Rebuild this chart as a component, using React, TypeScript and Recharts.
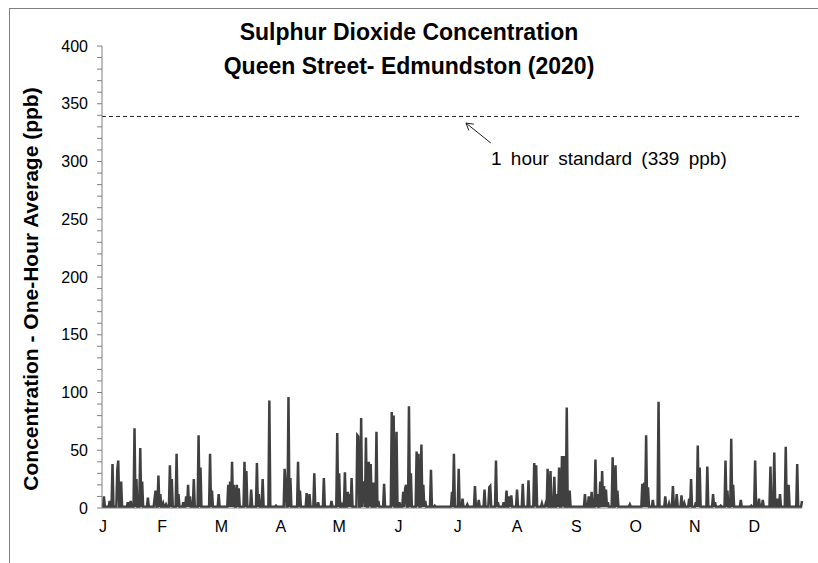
import { LineChart, Line, XAxis, YAxis, ReferenceLine } from "recharts"

// hourly SO2 peaks: [day of year, ppb]
const janPeaks = [[1, 10], [4, 6], [5.5, 38], [8, 33], [8.5, 41], [10, 23], [13.5, 5], [15, 6], [17, 69], [18, 25], [20, 52], [21, 23], [24, 9], [27.5, 8], [28, 15], [29.5, 28], [30.5, 12]]
const febPeaks = [[32, 4], [33.5, 3], [35.5, 37], [36.5, 25], [39, 47], [40, 12], [42.5, 5], [44, 10], [45, 20], [46, 10], [48, 25], [50.5, 63], [51.5, 35], [56.5, 47], [57.5, 15]]
const marPeaks = [[61, 12], [66, 20], [67, 23], [68, 40], [69, 20], [70.5, 20], [71.5, 17], [74.5, 40], [75.5, 32], [78, 16], [81, 39], [82, 12], [84, 25], [87.5, 93]]
const aprPeaks = [[91, 2], [95.5, 34], [96, 20], [97.5, 96], [98.5, 26], [102.5, 40], [103.5, 15], [107, 13], [108.5, 12], [111, 30], [113, 5], [116, 26], [120, 6]]
const mayPeaks = [[123, 65], [124, 30], [125.5, 3], [127, 31], [128.5, 14], [129.5, 12], [130.5, 26], [133.5, 63], [134, 62], [135.5, 78], [136.5, 22], [137, 22], [138, 61], [139.5, 40], [140.5, 38], [142, 22], [143.5, 66], [144.5, 6], [147.5, 21], [151.5, 83]]
const junPeaks = [[152.5, 80], [154, 66], [155.5, 5], [157.5, 14], [158.5, 17], [159, 20], [160.5, 88], [161.5, 30], [164.5, 49], [165.5, 47], [167, 55], [168, 20], [169, 6], [172, 33], [174, 2]]
const julPeaks = [[183, 14], [184, 47], [186.5, 34], [188.5, 8], [191, 3], [195, 19], [197, 7], [200, 16], [202.5, 18], [203, 19], [206, 41], [207, 5], [210, 5], [211.5, 15], [213, 10]]
const augPeaks = [[214, 11], [217, 16], [220, 21], [223, 24], [226, 39], [227, 37], [230, 4], [232, 4], [233, 34], [234.5, 32], [236.5, 27], [238, 12], [239, 35], [240.5, 45], [241.5, 45], [243, 87]]
const sepPeaks = [[244.5, 15], [252.5, 12], [254.5, 10], [256, 14], [258, 42], [259, 12], [260.5, 23], [261.5, 32], [262.5, 19], [263.5, 16], [264.5, 5], [267, 44], [268.5, 37], [269.5, 15]]
const octPeaks = [[276, 3], [282.5, 21], [283.5, 22], [284.5, 63], [285.5, 18], [288, 7], [291, 92], [294.5, 10], [296.5, 4], [298.5, 19], [300.5, 12], [303, 11], [304.5, 4]]
const novPeaks = [[307, 8], [308, 25], [310.5, 5], [311.5, 54], [312.5, 35], [316.5, 36], [319.5, 12], [320.5, 5], [323.5, 2], [326, 41], [327, 15], [329, 60], [330, 20], [334, 7]]
const decPeaks = [[339.5, 2], [341.5, 41], [343.5, 8], [345.5, 7], [349.5, 36], [351.5, 48], [353, 8], [354.5, 12], [357.5, 53], [359, 20], [363.5, 38], [366, 6]]

const baselinePpb = 1
const yearDays = 366
const stepDays = 0.5

const monthLabels = ["J", "F", "M", "A", "M", "J", "J", "A", "S", "O", "N", "D"]
const monthTicks = [0.5, 31.5, 62.5, 93.5, 124, 155, 186, 217, 248, 279, 310, 341]
const yTicks = [0, 10, 20, 30, 40, 50, 60, 70, 80, 90, 100, 110, 120, 130, 140, 150, 160, 170, 180, 190, 200, 210, 220, 230, 240, 250, 260, 270, 280, 290, 300, 310, 320, 330, 340, 350, 360, 370, 380, 390, 400]

const standardPpb = 339

const allPeaks = [...janPeaks, ...febPeaks, ...marPeaks, ...aprPeaks, ...mayPeaks, ...junPeaks, ...julPeaks, ...augPeaks, ...sepPeaks, ...octPeaks, ...novPeaks, ...decPeaks]
const peakByStep = new Map(allPeaks.map(([d, v]) => [Math.round(d / stepDays), v]))
const data = Array.from({ length: yearDays / stepDays + 1 }, (_, i) => ({
  day: i * stepDays,
  so2: peakByStep.get(i) ?? baselinePpb,
}))

const font = '"Liberation Sans", Arial, sans-serif'
const axisGray = "#7f7f7f"

export default function App() {
  return (
    <div style={{ position: "absolute", left: 0, top: 0, width: 818, height: 563, background: "#fff", fontFamily: font, overflow: "hidden" }}>
      <div style={{ position: "absolute", left: 9, top: 8, width: 820, height: 570, borderTop: `1px solid ${axisGray}`, borderLeft: `1px solid ${axisGray}` }} />
      <div style={{ position: "absolute", left: 0, top: 15, width: 818, textAlign: "center", fontSize: 23, fontWeight: "bold", lineHeight: "34px", color: "#000" }}>
        Sulphur Dioxide Concentration
        <br />
        Queen Street- Edmundston (2020)
      </div>
      <div style={{ position: "absolute", left: 31, top: 289, transform: "translate(-50%, -50%) rotate(-90deg)", whiteSpace: "nowrap", fontSize: 21, fontWeight: "bold", color: "#000" }}>
        Concentration - One-Hour Average (ppb)
      </div>
      <div style={{ position: "absolute", left: 491, top: 148, fontSize: 19, lineHeight: "22px", wordSpacing: 4, whiteSpace: "nowrap", color: "#000" }}>
        1 hour standard (339 ppb)
      </div>
      <LineChart width={818} height={563} data={data} margin={{ top: 46, right: 16, bottom: 25, left: 0 }} style={{ position: "absolute", left: 0, top: 0 }}>
        <XAxis
          dataKey="day"
          type="number"
          domain={[0, yearDays]}
          ticks={monthTicks}
          tickFormatter={(v: number) => monthLabels[monthTicks.indexOf(v)] ?? ""}
          tick={{ fontSize: 16, fill: "#000", fontFamily: font }}
          tickLine={false}
          tickSize={6}
          tickMargin={7}
          axisLine={{ stroke: axisGray }}
          height={30}
          interval={0}
        />
        <YAxis
          type="number"
          domain={[0, 400]}
          ticks={yTicks}
          tickFormatter={(v: number) => (v % 50 === 0 ? String(v) : "")}
          tick={{ fontSize: 16, fill: "#000", fontFamily: font }}
          tickLine={{ stroke: axisGray }}
          tickSize={5}
          tickMargin={9}
          axisLine={{ stroke: axisGray }}
          width={102}
          interval={0}
        />
        <ReferenceLine y={standardPpb} stroke="#222" strokeDasharray="4 3" strokeWidth={1} />
        <ReferenceLine segment={[{ x: 203.3, y: 316 }, { x: 190.3, y: 333.3 }]} stroke="#222" strokeWidth={1} />
        <ReferenceLine segment={[{ x: 190.3, y: 333.3 }, { x: 191.8, y: 326.9 }]} stroke="#222" strokeWidth={1} />
        <ReferenceLine segment={[{ x: 190.3, y: 333.3 }, { x: 194.4, y: 332.3 }]} stroke="#222" strokeWidth={1} />
        <Line type="linear" dataKey="so2" stroke="#404040" strokeWidth={2.5} dot={false} isAnimationActive={false} />
      </LineChart>
    </div>
  )
}
